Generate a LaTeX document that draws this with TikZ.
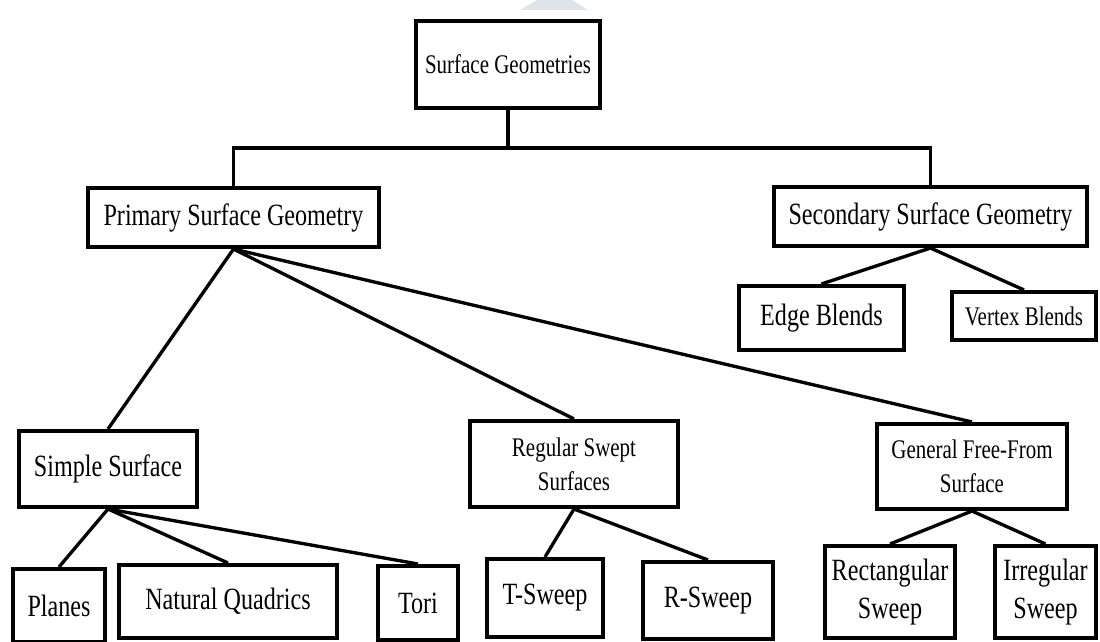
\documentclass[tikz,border=0pt]{standalone}
\usepackage{fontspec}
\setmainfont{Liberation Serif}[FakeStretch=0.78]
\definecolor{wmark}{RGB}{222,228,232}
\def\pxu{0.02cm}

\begin{document}
\begin{tikzpicture}[x=0.02cm, y=-0.02cm,
  every node/.style={draw=black, rectangle, line width=2.3pt, inner sep=0pt, align=center},
  big/.style={font=\fontsize{17.6}{21.5}\selectfont},
  small/.style={font=\fontsize{15.3}{19.5}\selectfont},
  sz/.style 2 args={minimum width=#1*\pxu, minimum height=#2*\pxu},
  link/.style={line width=1.9pt}]
\useasboundingbox (0,0) rectangle (1100,642);
\fill[wmark] (520,10) -- (588,10) -- (572,0) -- (537,0) -- cycle;

\node[small, sz={184}{87}] (sg) at (508,64.5) {Surface Geometries};
\node[big, sz={291}{59}] (psg) at (233.5,217.5) {Primary Surface Geometry};
\node[big, sz={313}{59}] (ssg) at (930.5,216.5) {Secondary Surface Geometry};
\node[big, sz={165}{64}] (eb) at (821.5,318) {Edge Blends};
\node[small, sz={144}{48}] (vb) at (1024,316) {Vertex Blends};
\node[big, sz={178}{76}] (ss) at (108,469) {Simple Surface};
\node[small, sz={208}{86}] (rss) at (574,464) {Regular Swept\\Surfaces};
\node[small, sz={190}{85}] (gff) at (972,466.5) {General Free-From\\Surface};
\node[big, sz={92}{73}] (pl) at (59,605.5) {Planes};
\node[big, sz={218}{73}] (nq) at (228,601.5) {Natural Quadrics};
\node[big, sz={80}{74}] (to) at (418,603) {Tori};
\node[big, sz={116}{78}] (ts) at (545,598) {T-Sweep};
\node[big, sz={130}{77}] (rs) at (708,600.5) {R-Sweep};
\node[big, sz={130}{92}] (rc) at (890,592) {Rectangular\\Sweep};
\node[big, sz={101}{92}] (ir) at (1045.5,592) {Irregular\\Sweep};

\coordinate (bus) at (508,148);
\draw[line width=2.1pt] (sg.south) -- (bus);
\draw[line width=2.1pt] (psg.north) |- (bus) -| (ssg.north);

\draw[link] (ssg.south) -- (eb.north);
\draw[link] (ssg.south) -- (vb.north);
\draw[link] (psg.south) -- (ss.north);
\draw[link] (psg.south) -- (rss.north);
\draw[link] (psg.south) -- (gff.north);
\draw[link] (ss.south) -- (pl.north);
\draw[link] (ss.south) -- (nq.north);
\draw[link] (ss.south) -- (to.north);
\draw[link] (rss.south) -- (ts.north);
\draw[link] (rss.south) -- (rs.north);
\draw[link] (gff.south) -- (rc.north);
\draw[link] (gff.south) -- (ir.north);
\end{tikzpicture}
\end{document}
